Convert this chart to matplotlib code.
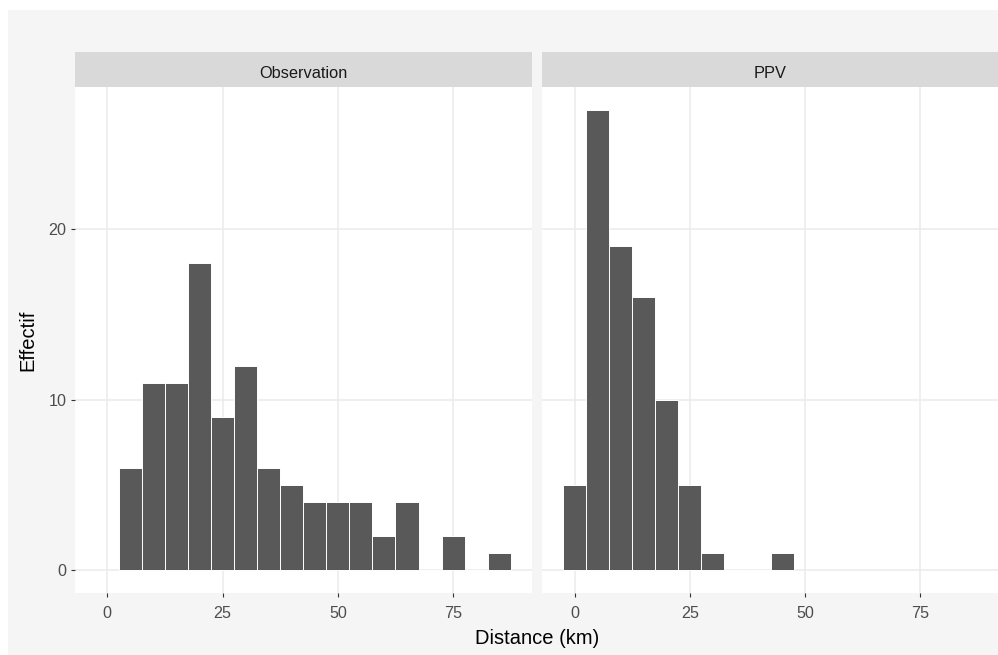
import matplotlib
matplotlib.use("Agg")
import matplotlib.pyplot as plt
from matplotlib.patches import Rectangle

plt.rcParams['font.family'] = ['Liberation Sans', 'DejaVu Sans']

# Histogram data (binwidth 5 km)
bin_width = 5
obs_centers = [5, 10, 15, 20, 25, 30, 35, 40, 45, 50, 55, 60, 65, 70, 75, 80, 85]
obs_counts = [6, 11, 11, 18, 9, 12, 6, 5, 4, 4, 4, 2, 4, 0, 2, 0, 1]
ppv_centers = [0, 5, 10, 15, 20, 25, 30, 35, 40, 45]
ppv_counts = [5, 27, 19, 16, 10, 5, 1, 0, 0, 1]

panels = [("Observation", obs_centers, obs_counts),
          ("PPV", ppv_centers, ppv_counts)]
x_ticks = [0, 25, 50, 75]
y_ticks = [0, 10, 20]

W, H = 998, 655
fig = plt.figure(figsize=(W / 100, H / 100), dpi=100, facecolor='white')

# light grey plot background (white strip on left/top)
fig.patches.append(Rectangle((8 / W, 0), 1, (H - 9.5) / H, transform=fig.transFigure,
                             facecolor='#f5f5f5', edgecolor='none', zorder=-5))

bar_col = '#595959'
grid_col = '#ebebeb'
tick_col = '#333333'
lab_col = '#4d4d4d'

px_left = [75, 542.3]
pw = 456.5
ptop, pbot = 87.3, 592.7
strip_top = 51.7

axes = []
for i, (name, centers, counts) in enumerate(panels):
    ax = fig.add_axes([px_left[i] / W, (H - pbot) / H, pw / W, (pbot - ptop) / H])
    ax.set_facecolor('white')
    ax.bar(centers, counts, width=bin_width, color=bar_col, edgecolor='white',
           linewidth=0.7, zorder=2)
    ax.set_xlim(-7, 92)
    ax.set_ylim(-1.35, 28.35)
    ax.set_xticks(x_ticks)
    ax.set_yticks(y_ticks)
    ax.grid(True, color=grid_col, linewidth=1.1, zorder=0)
    ax.set_axisbelow(True)
    for s in ax.spines.values():
        s.set_visible(False)
    ax.tick_params(axis='both', colors=tick_col, length=3.2, width=0.8,
                   labelsize=11.6, labelcolor=lab_col, pad=3)
    ax.tick_params(axis='x', pad=6.5)
    if i > 0:
        ax.tick_params(axis='y', left=False, labelleft=False)
    # facet strip
    sax = fig.add_axes([px_left[i] / W, (H - ptop) / H, pw / W, (ptop - strip_top) / H])
    sax.set_facecolor('#d9d9d9')
    sax.set_xticks([])
    sax.set_yticks([])
    for s in sax.spines.values():
        s.set_visible(False)
    sax.text(0.5, 0.4, name, ha='center', va='center', fontsize=11.8,
             color='#1a1a1a', transform=sax.transAxes)
    axes.append(ax)

fig.text((75 + 542.3 + pw) / 2 / W, (H - 638) / H, 'Distance (km)', ha='center',
         va='center', fontsize=14.5, color='black')
fig.text(28 / W, (H - 340) / H, 'Effectif', ha='center', va='center',
         rotation=90, fontsize=14.5, color='black')

fig.savefig('out.png', dpi=100, facecolor=fig.get_facecolor())
